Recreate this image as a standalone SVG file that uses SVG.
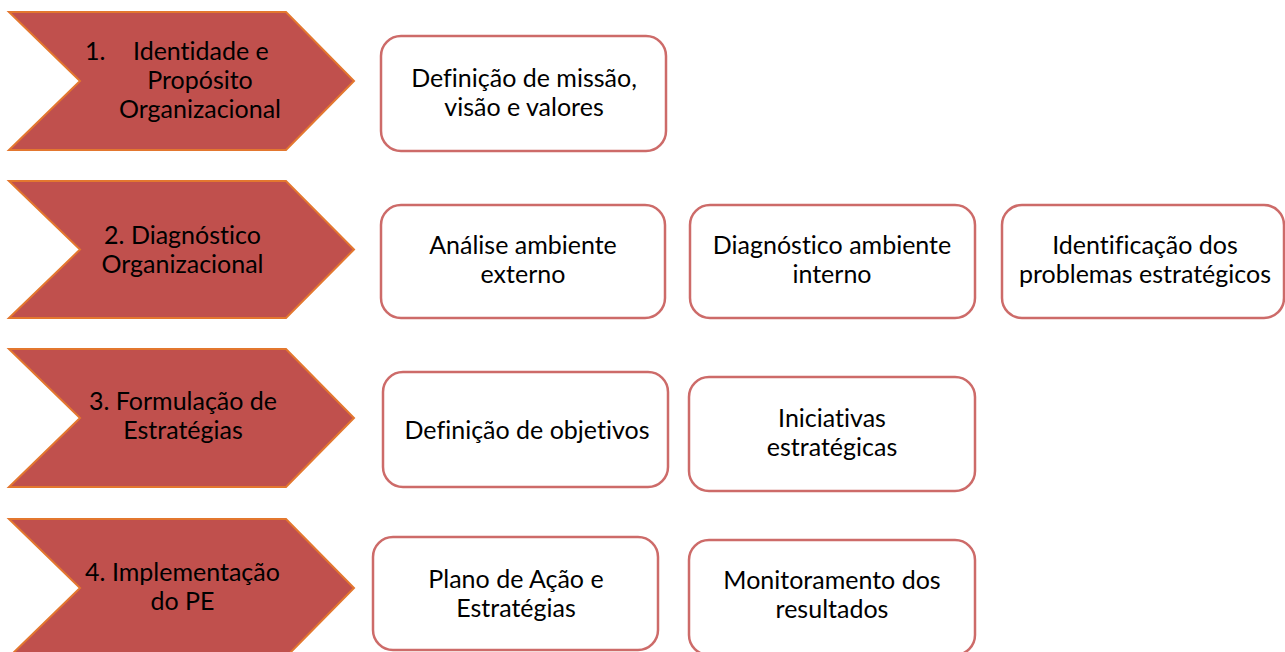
<svg xmlns="http://www.w3.org/2000/svg" width="1285" height="652" viewBox="0 0 1285 652">
<style>
.chev{fill:#C0504D;stroke:#E3772F;stroke-width:2;stroke-linejoin:miter}
.box{fill:#FFFFFF;stroke:#CD6B69;stroke-width:2.5}
text{font-family:Lato,"Liberation Sans",sans-serif;font-size:25px;fill:#000000;font-variant-ligatures:none;font-feature-settings:"liga" 0}
.c{text-anchor:middle}
</style>
<rect width="1285" height="652" fill="#FFFFFF"/>
<g id="connectors"></g>
<g id="step1">
<polygon class="chev" points="9,12 286,12 354,81 286,150 9,150 80,81"/>
<text x="85" y="60">1.</text>
<text x="133" y="60">Identidade e</text>
<text class="c" x="200" y="89">Propósito</text>
<text class="c" x="200" y="118">Organizacional</text>
</g>
<g id="step2">
<polygon class="chev" points="9,181 286,181 354,249.5 286,318 9,318 80,249.5"/>
<text class="c" x="182.5" y="244">2. Diagnóstico</text>
<text class="c" x="182.5" y="273">Organizacional</text>
</g>
<g id="step3">
<polygon class="chev" points="9,349 286,349 354,418 286,487 9,487 80,418"/>
<text class="c" x="183" y="410">3. Formulação de</text>
<text class="c" x="183" y="439">Estratégias</text>
</g>
<g id="step4">
<polygon class="chev" points="9,519 286,519 354,588 286,657 9,657 80,588"/>
<text class="c" x="182.5" y="581">4. Implementação</text>
<text class="c" x="182.5" y="610">do PE</text>
</g>
<g id="box1a">
<rect class="box" x="381" y="36" width="285" height="115" rx="20"/>
<text class="c" x="524" y="87">Definição de missão,</text>
<text class="c" x="524" y="116">visão e valores</text>
</g>
<g id="box2a">
<rect class="box" x="381" y="205" width="284" height="113" rx="20"/>
<text class="c" x="523" y="254">Análise ambiente</text>
<text class="c" x="523" y="283">externo</text>
</g>
<g id="box2b">
<rect class="box" x="690" y="205" width="285" height="113" rx="20"/>
<text class="c" x="832" y="254">Diagnóstico ambiente</text>
<text class="c" x="832" y="283">interno</text>
</g>
<g id="box2c">
<rect class="box" x="1002" y="205" width="282" height="113" rx="20"/>
<text class="c" x="1145" y="254">Identificação dos</text>
<text class="c" x="1145" y="283">problemas estratégicos</text>
</g>
<g id="box3a">
<rect class="box" x="383" y="372" width="285" height="115" rx="20"/>
<text class="c" x="527" y="439">Definição de objetivos</text>
</g>
<g id="box3b">
<rect class="box" x="689" y="377" width="286" height="114" rx="20"/>
<text class="c" x="832" y="427">Iniciativas</text>
<text class="c" x="832" y="456">estratégicas</text>
</g>
<g id="box4a">
<rect class="box" x="373" y="537" width="285" height="113" rx="20"/>
<text class="c" x="516" y="588">Plano de Ação e</text>
<text class="c" x="516" y="617">Estratégias</text>
</g>
<g id="box4b">
<rect class="box" x="689" y="540" width="286" height="115" rx="20"/>
<text class="c" x="832" y="589">Monitoramento dos</text>
<text class="c" x="832" y="618">resultados</text>
</g>
</svg>
